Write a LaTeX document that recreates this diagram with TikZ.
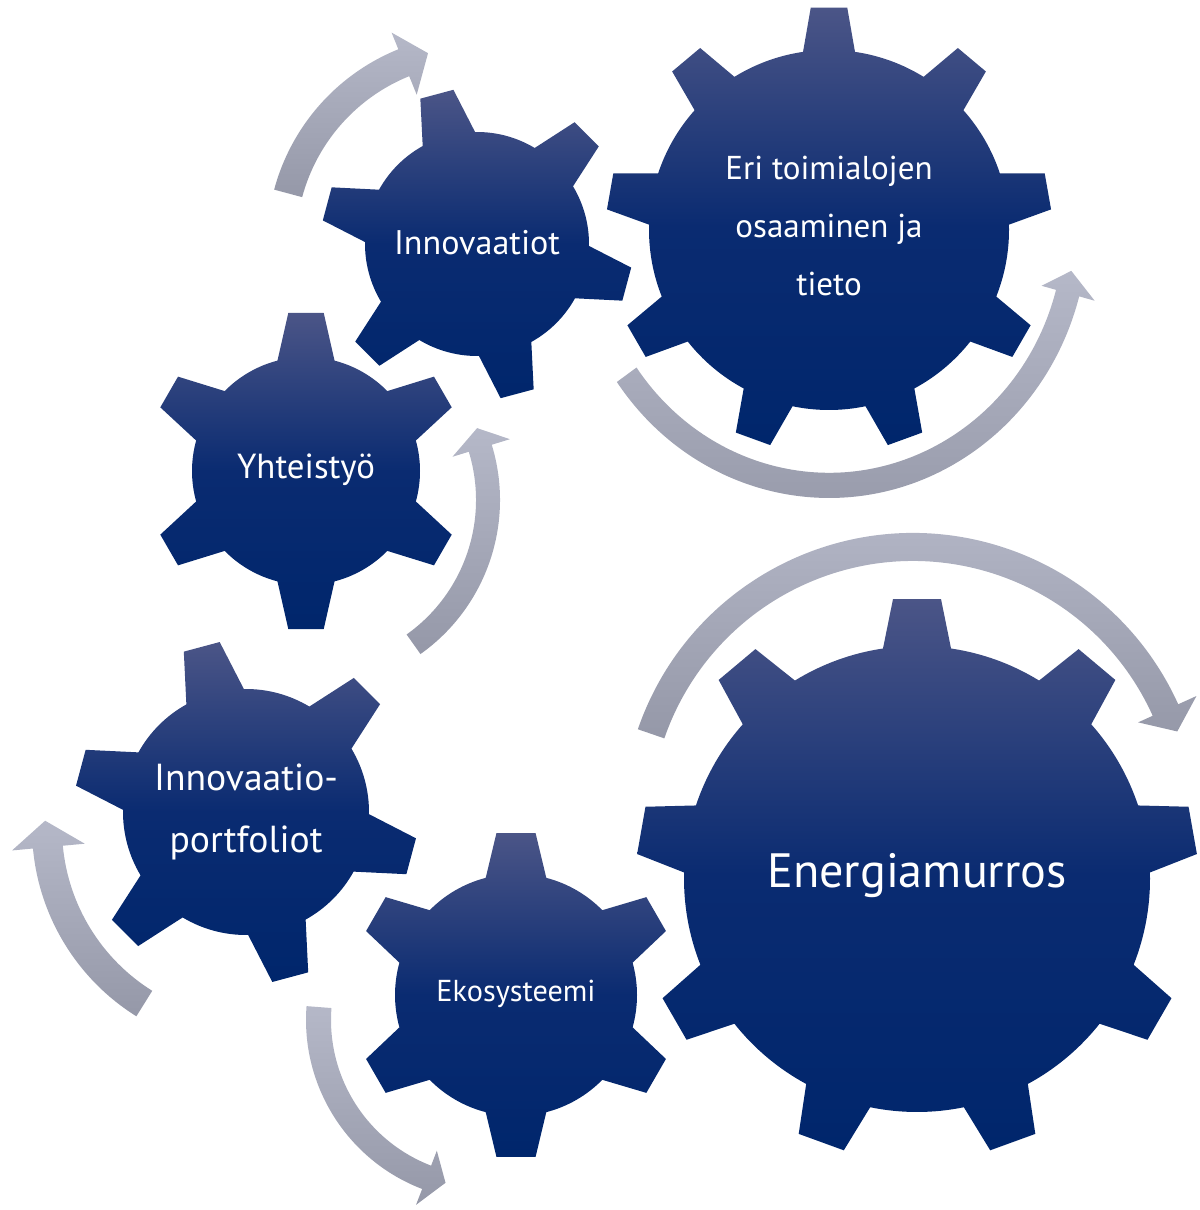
\documentclass[tikz,border=0pt]{standalone}
\usepackage{fontspec}
\setmainfont{PT Sans}
\usepackage{tikz}
\usetikzlibrary{positioning}

\definecolor{geartop}{HTML}{4B5587}
\definecolor{gearmid}{HTML}{0A2B71}
\definecolor{gearbot}{HTML}{00266C}
\definecolor{arrowtop}{HTML}{B5B8C8}
\definecolor{arrowbot}{HTML}{9598A8}

% gear: centre, inner r, outer r, teeth, rotation, tip half angle, root half angle
\newcommand{\drawgear}[7]{%
  \shade[gearfill, shift={(#1)}] ({#5-#7}:#2)
    \foreach \k in {1,...,#4}{
      -- ({#5+(\k-1)*360/#4-#6}:#3) -- ({#5+(\k-1)*360/#4+#6}:#3)
      -- ({#5+(\k-1)*360/#4+#7}:#2)
      arc[start angle={#5+(\k-1)*360/#4+#7}, end angle={#5+\k*360/#4-#7}, radius=#2]
    } -- cycle;}

% round arrow: placement, tail angle, barb angle, tip angle, inner r, outer r, barb inner r, barb outer r, tip r
\newcommand{\cycarrow}[9]{%
  \shade[arrowfill, #1] (#2:#6)
    arc[start angle=#2, end angle=#3, radius=#6]
    -- (#3:#8) -- (#4:#9) -- (#3:#7) -- (#3:#5)
    arc[start angle=#3, end angle=#2, radius=#5] -- cycle;}

\begin{document}
\begin{tikzpicture}[
    x=0.01cm, y=0.01cm,
    gearfill/.style={top color=geartop, bottom color=gearbot, middle color=gearmid},
    arrowfill/.style={top color=arrowtop, bottom color=arrowbot},
    lbl/.style={text=white, align=center, inner sep=0pt},
]
\useasboundingbox (0,0) rectangle (1199,-1210);

% Centres
\coordinate (c-innov) at (477,-244);
\coordinate (c-eri) at (829,-230);
\coordinate (c-yht) at (306,-471);
\coordinate (c-port) at (246,-812);
\coordinate (c-eko) at (516,-995);
\coordinate (c-energy) at (917,-879);

% Arrows
\cycarrow{shift={(c-innov)}}{165}{112}{104.4}{181}{210}{161}{228}{197}
\cycarrow{shift={(829,-226)}, yscale=1.05}{-145}{-15}{-10}{235}{259}{220}{275}{246}
\cycarrow{shift={(311,-500)}}{-54.6}{17}{23.4}{165}{189}{148}{208}{181}
\cycarrow{shift={(913,-824)}}{161}{24.3}{19.3}{263}{291}{247}{311}{280}
\cycarrow{shift={(254,-828)}}{238}{185.3}{178}{192}{222}{170}{243}{209}
\cycarrow{shift={(487,-1020)}}{175.6}{249}{255.7}{156}{181}{140}{198}{168}

% Gears
\drawgear{c-energy}{233}{281}{9}{90}{4.9}{8.4}
\drawgear{c-eri}{180}{223}{9}{90}{4.7}{8.3}
\drawgear{c-innov}{112}{156}{6}{105}{6.3}{14}
\drawgear{c-yht}{114}{159}{6}{90}{6.4}{14.5}
\drawgear{c-port}{123}{172}{6}{105}{6.2}{14}
\drawgear{c-eko}{121}{163}{6}{90}{6.9}{14.5}

% Labels
\node[lbl, font=\fontsize{13.7}{16}\selectfont] (energy) at (917,-876) {Energiamurros};
\node[lbl, font=\fontsize{9.4}{16.5}\selectfont] (eri) at (829,-226) {Eri toimialojen\\osaaminen ja\\tieto};
\node[lbl, font=\fontsize{9.7}{12}\selectfont] (innov) at (477,-243) {Innovaatiot};
\node[lbl, font=\fontsize{9.9}{12}\selectfont] (yht) at (306,-470) {Yhteistyö};
\node[lbl, font=\fontsize{10.7}{17.6}\selectfont] (port) at (246,-812) {Innovaatio-\\portfoliot};
\node[lbl, font=\fontsize{8.6}{10}\selectfont] (eko) at (516,-994) {Ekosysteemi};

\end{tikzpicture}
\end{document}
